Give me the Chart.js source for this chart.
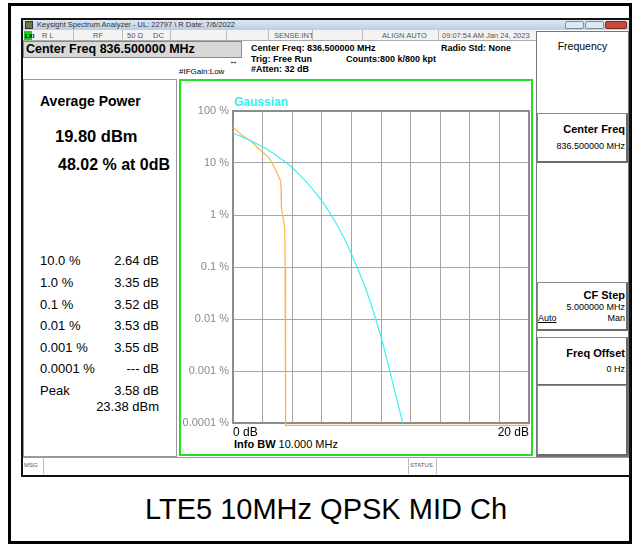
<!DOCTYPE html>
<html>
<head>
<meta charset="utf-8">
<script src="https://cdn.jsdelivr.net/npm/chart.js@4.4.0/dist/chart.umd.min.js"></script>
<style>
  body { margin: 0; width: 637px; height: 546px; background: #fff; position: relative; overflow: hidden;
         font-family: "Liberation Sans", Arial, sans-serif; color: #000; }
  .a { position: absolute; white-space: nowrap; }
  .box { position: absolute; box-sizing: border-box; }
  .hd { font-size: 9px; font-weight: bold; }
  .st { font-size: 7.5px; color: #555; top: 31px; line-height: 10px; }
  .row { font-size: 13px; }
  .val { font-size: 13px; text-align: right; width: 80px; left: 79px; }
  .key { position: absolute; left: 537px; width: 91px; box-sizing: border-box; border: 1px solid #8a8a8a;
         border-bottom: 2px solid #6a6a6a; border-right: 2px solid #6a6a6a; background: #fff; }
  .kt { font-size: 11px; font-weight: bold; }
  .ks { font-size: 9px; }
</style>
</head>
<body>
<!-- outer frame and caption -->
<div class="box" style="left:8px;top:3px;width:624px;height:541px;border:3px solid #000;"></div>
<div class="a" style="left:0;width:652px;text-align:center;top:493px;font-size:29px;line-height:33px;">LTE5 10MHz QPSK MID Ch</div>

<!-- analyzer screenshot -->
<div class="box" style="left:21px;top:18px;width:610px;height:459px;border:2px solid #111;background:#fff;"></div>
<div class="box" style="left:23px;top:20px;width:606px;height:10px;background:linear-gradient(#dce7f3,#bccde2);"></div>
<div class="box" style="left:25px;top:21px;width:8px;height:8px;background:#6b7d3a;border:1px solid #333;"></div>
<div class="a" style="left:37px;top:20px;font-size:7.5px;line-height:10px;color:#333;">Keysight Spectrum Analyzer - UL: 22797 \ R Date: 7/6/2022</div>
<div class="box" style="left:565px;top:21px;width:19px;height:8px;background:#dfe8f2;border:1px solid #7d8ea3;border-radius:2px;"></div>
<div class="box" style="left:585px;top:21px;width:19px;height:8px;background:#dfe8f2;border:1px solid #7d8ea3;border-radius:2px;"></div>
<div class="box" style="left:605px;top:21px;width:22px;height:8px;background:#c9493a;border:1px solid #7a2a20;border-radius:2px;"></div>

<!-- status row -->
<div class="box" style="left:23px;top:30px;width:514px;height:11px;background:#f3f3f3;border-bottom:1px solid #aaa;"></div>
<div class="box" style="left:24px;top:31px;width:8px;height:9px;background:#22cc22;"></div>
<div class="a st" style="left:25px;font-weight:bold;color:#000;font-size:6px;">LXI</div>
<div class="a st" style="left:42px;">R L</div>
<div class="box" style="left:73px;top:30px;width:1px;height:11px;background:#bbb;"></div>
<div class="a st" style="left:93px;">RF</div>
<div class="box" style="left:122px;top:30px;width:1px;height:11px;background:#bbb;"></div>
<div class="a st" style="left:127px;">50 Ω</div>
<div class="a st" style="left:153px;">DC</div>
<div class="box" style="left:170px;top:30px;width:1px;height:11px;background:#bbb;"></div>
<div class="box" style="left:226px;top:30px;width:1px;height:11px;background:#bbb;"></div>
<div class="box" style="left:268px;top:30px;width:1px;height:11px;background:#bbb;"></div>
<div class="a st" style="left:274px;">SENSE:INT</div>
<div class="box" style="left:312px;top:30px;width:1px;height:11px;background:#bbb;"></div>
<div class="box" style="left:362px;top:30px;width:1px;height:11px;background:#bbb;"></div>
<div class="a st" style="left:382px;">ALIGN AUTO</div>
<div class="box" style="left:438px;top:30px;width:1px;height:11px;background:#bbb;"></div>
<div class="a st" style="left:442px;">09:07:54 AM Jan 24, 2023</div>

<!-- header -->
<div class="box" style="left:23px;top:41px;width:219px;height:17px;background:#d8d8d8;border:1px solid #888;"></div>
<div class="a" style="left:26px;top:42px;font-size:12.5px;font-weight:bold;line-height:15px;">Center Freq 836.500000 MHz</div>
<div class="a hd" style="left:251px;top:43px;">Center Freq: 836.500000 MHz</div>
<div class="a hd" style="left:251px;top:54px;">Trig: Free Run</div>
<div class="a hd" style="left:251px;top:64px;">#Atten: 32 dB</div>
<div class="a hd" style="left:346px;top:54px;">Counts:800 k/800 kpt</div>
<div class="a hd" style="left:441px;top:43px;">Radio Std: None</div>
<div class="a" style="left:179px;top:67px;font-size:8px;">#IFGain:Low</div>
<div class="a" style="left:229px;top:56px;font-size:9px;">↔</div>

<!-- left result panel -->
<div class="box" style="left:23px;top:79px;width:154px;height:378px;border:1px solid #999;"></div>
<div class="a" style="left:40px;top:93px;font-size:14px;font-weight:bold;">Average Power</div>
<div class="a" style="left:55px;top:127px;font-size:16.5px;font-weight:bold;">19.80 dBm</div>
<div class="a" style="left:58px;top:156px;font-size:16px;font-weight:bold;">48.02 % at 0dB</div>
<div id="stats"></div>

<!-- plot frame -->
<div class="box" style="left:179px;top:79px;width:354px;height:377px;border:2px solid #22e022;"></div>
<div class="a" style="left:234px;top:95px;font-size:12px;font-weight:bold;color:#33f0f0;">Gaussian</div>
<div class="a" style="left:234px;top:438px;font-size:11px;"><b>Info BW</b> 10.000 MHz</div>
<div style="position:absolute;left:181px;top:81px;width:350px;height:373px;">
  <canvas id="ccdfChart" width="350" height="373"></canvas>
</div>

<!-- softkey panel -->
<div class="box" style="left:536px;top:31px;width:93px;height:426px;border:1px solid #777;"></div>
<div class="a" style="left:536px;width:93px;text-align:center;top:40px;font-size:10.5px;">Frequency</div>
<div class="key" style="top:113px;height:50px;"></div>
<div class="a kt" style="right:12px;top:123px;">Center Freq</div>
<div class="a ks" style="right:12px;top:141px;">836.500000 MHz</div>
<div class="key" style="top:282px;height:49px;"></div>
<div class="a kt" style="right:12px;top:289px;">CF Step</div>
<div class="a ks" style="right:12px;top:302px;">5.000000 MHz</div>
<div class="a ks" style="left:538px;top:313px;text-decoration:underline;">Auto</div>
<div class="a ks" style="right:12px;top:313px;">Man</div>
<div class="key" style="top:337px;height:49px;"></div>
<div class="a kt" style="right:12px;top:347px;">Freq Offset</div>
<div class="a ks" style="right:12px;top:364px;">0 Hz</div>
<div class="key" style="top:385px;height:71px;"></div>

<!-- bottom bar -->
<div class="box" style="left:23px;top:457px;width:606px;height:17px;background:#fff;border-top:1px solid #999;"></div>
<div class="a" style="left:24px;top:462px;font-size:6px;color:#555;">MSG</div>
<div class="box" style="left:43px;top:457px;width:1px;height:17px;background:#bbb;"></div>
<div class="box" style="left:408px;top:457px;width:1px;height:17px;background:#bbb;"></div>
<div class="a" style="left:410px;top:462px;font-size:6px;color:#555;">STATUS</div>
<div class="box" style="left:436px;top:457px;width:1px;height:17px;background:#bbb;"></div>

<script>
// ---------------------------------------------- DATA ----------------------------------------------
const statLabels = ["10.0 %", "1.0 %", "0.1 %", "0.01 %", "0.001 %", "0.0001 %", "Peak"];
const statValues = ["2.64 dB", "3.35 dB", "3.52 dB", "3.53 dB", "3.55 dB", "--- dB", "3.58 dB"];
const peakPower = "23.38 dBm";

// Gaussian reference curve (dB above average, % probability)
const gaussDb = [0, 0.5, 1, 1.5, 2, 2.5, 3, 3.5, 4, 4.5, 5, 5.5, 6, 6.5, 7, 7.5, 8, 8.5, 9, 9.5, 10, 10.5, 11, 11.47];
const gaussPct = [37.6, 32.6, 28.4, 24.3, 20.5, 16.9, 13.5, 10.7, 8.1, 5.9, 4.2, 2.85, 1.87, 1.15, 0.67, 0.36, 0.18, 0.083, 0.036, 0.0135, 0.0045, 0.0013, 0.00034, 0.0001];

// measured trace
const measDb = [0, 0.3, 0.6, 1.0, 1.3, 1.6, 1.9, 2.2, 2.45, 2.64, 2.8, 2.95, 3.1, 3.22, 3.25, 3.27, 3.35, 3.42, 3.5, 3.52, 3.53, 3.55, 3.58, 20];
const measPct = [48, 41, 34, 29, 25, 20.5, 17, 14.5, 12.3, 10, 8.2, 6.6, 5.4, 4.5, 3.0, 1.4, 1.0, 0.8, 0.5, 0.1, 0.01, 0.001, 0.00009, 0.00009];

const yTicks = [100, 10, 1, 0.1, 0.01, 0.001, 0.0001];
const yTickLabels = ["100 %", "10 %", "1 %", "0.1 %", "0.01 %", "0.001 %", "0.0001 %"];
const xTickLabels = { 0: "0 dB", 20: "20 dB" };

// left panel statistics
const rowTops = [253, 275, 297, 318, 340, 361, 383];
let html = "";
statLabels.forEach((l, i) => {
  html += `<div class="a row" style="left:40px;top:${rowTops[i]}px;">${l}</div>`;
  html += `<div class="a val" style="top:${rowTops[i]}px;">${statValues[i]}</div>`;
});
html += `<div class="a val" style="top:399px;">${peakPower}</div>`;
document.getElementById("stats").innerHTML = html;

// ---------------------------------------------- CCDF GRAPH ----------------------------------------------
const plotBorder = {
  id: "plotBorder",
  beforeDatasetsDraw(chart) {
    const { ctx, chartArea: a } = chart;
    ctx.save();
    ctx.strokeStyle = "#8c8c8c";
    ctx.lineWidth = 2;
    ctx.strokeRect(a.left, a.top, a.right - a.left, a.bottom - a.top);
    ctx.restore();
  },
};

const ccdfCTX = document.getElementById("ccdfChart");

const configCcdf = {
  type: "line",
  data: {
    datasets: [
      {
        label: "Gaussian",
        data: gaussDb.map((x, i) => ({ x: x, y: gaussPct[i] })),
        borderColor: "#3af2f2",
        borderWidth: 1.2,
        pointRadius: 0,
        tension: 0.3,
      },
      {
        label: "Measured",
        data: measDb.map((x, i) => ({ x: x, y: measPct[i] })),
        borderColor: "#ffb347",
        borderWidth: 1.2,
        pointRadius: 0,
        tension: 0,
        clip: 4,
      },
    ],
  },
  options: {
    responsive: false,
    animation: false,
    layout: { padding: { top: 30, right: 1, left: 0, bottom: 0 } },
    plugins: {
      legend: { display: false },
      tooltip: { enabled: false },
    },
    scales: {
      x: {
        type: "linear",
        min: 0,
        max: 20,
        border: { display: false },
        grid: { color: "#a6a6a6", drawTicks: false },
        ticks: {
          stepSize: 2,
          autoSkip: false,
          maxRotation: 0,
          minRotation: 0,
          align: "inner",
          padding: 2,
          color: "#000",
          font: { family: "Liberation Sans", size: 12 },
          callback: (v) => xTickLabels[v] || "",
        },
        afterFit: (s) => { s.height = 31; },
      },
      y: {
        type: "logarithmic",
        min: 0.0001,
        max: 100,
        border: { display: false },
        grid: { color: "#a6a6a6", drawTicks: false },
        ticks: {
          padding: 4,
          color: "#8a8a8a",
          font: { family: "Liberation Sans", size: 11 },
          callback: (v) => yTickLabels[yTicks.indexOf(v)] || "",
        },
        afterBuildTicks: (s) => { s.ticks = yTicks.map((v) => ({ value: v })); },
        afterFit: (s) => { s.width = 52; },
      },
    },
  },
  plugins: [plotBorder],
};

const ccdfChart = new Chart(ccdfCTX, configCcdf);
</script>
</body>
</html>
